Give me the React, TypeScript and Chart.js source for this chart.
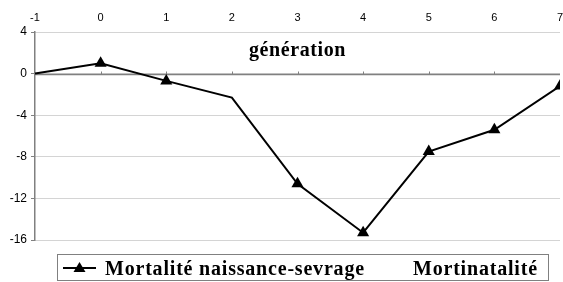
import React, { useEffect, useRef } from "react";
import { Chart, registerables } from "chart.js";

Chart.register(...registerables);

const generations = [-1, 0, 1, 2, 3, 4, 5, 6, 7];
const mortaliteNaissanceSevrage = [0, 1.0, -0.7, -2.3, -10.6, -15.3, -7.5, -5.4, -1.2];
const mortinatalite: (number | null)[] = [null, null, null, null, null, null, null, null, null];
const seriesLabels = ["Mortalité naissance-sevrage", "Mortinatalité"];
const axisTitle = "génération";
const yMin = -16;
const yMax = 4;
const yStep = 4;
const xMin = -1;
const xMax = 7;

const overlayPlugin = {
  id: "overlay",
  beforeDatasetsDraw(chart: any) {
    const { ctx, chartArea, scales } = chart;
    const y0 = Math.round(scales.y.getPixelForValue(0)) + 0.5;
    ctx.save();
    ctx.strokeStyle = "#808080";
    ctx.lineWidth = 1.5;
    ctx.beginPath();
    ctx.moveTo(chartArea.left, y0);
    ctx.lineTo(chartArea.right, y0);
    ctx.stroke();
    ctx.lineWidth = 1;
    for (let g = 0; g <= 6; g++) {
      const x = Math.round(scales.x.getPixelForValue(g)) + 0.5;
      ctx.beginPath();
      ctx.moveTo(x, y0);
      ctx.lineTo(x, y0 - 3);
      ctx.stroke();
    }
    // title inside plot
    ctx.fillStyle = "#000";
    ctx.font = "bold 20px 'Liberation Serif'";
    (ctx as any).letterSpacing = "0.6px";
    ctx.textAlign = "center";
    ctx.textBaseline = "alphabetic";
    ctx.fillText(axisTitle, scales.x.getPixelForValue(3), 56);
    ctx.restore();
  },
  afterDraw(chart: any) {
    const { ctx } = chart;
    ctx.save();
    // legend box
    ctx.strokeStyle = "#808080";
    ctx.lineWidth = 1;
    ctx.strokeRect(57.5, 254.5, 491, 26);
    // symbol series 1
    const ly = 268;
    ctx.strokeStyle = "#000";
    ctx.lineWidth = 2;
    ctx.beginPath();
    ctx.moveTo(63, ly);
    ctx.lineTo(96, ly);
    ctx.stroke();
    ctx.fillStyle = "#000";
    ctx.beginPath();
    ctx.moveTo(79.5, ly - 6);
    ctx.lineTo(85.5, ly + 4);
    ctx.lineTo(73.5, ly + 4);
    ctx.closePath();
    ctx.fill();
    ctx.font = "bold 20px 'Liberation Serif'";
    (ctx as any).letterSpacing = "0.8px";
    ctx.textAlign = "left";
    ctx.textBaseline = "alphabetic";
    ctx.fillText(chart.data.datasets[0].label, 105, 275);
    ctx.fillText(chart.data.datasets[1].label, 413, 275);
    ctx.restore();
  },
};

export default function App() {
  const ref = useRef<HTMLCanvasElement | null>(null);
  useEffect(() => {
    document.body.style.margin = "0";
    const canvas = ref.current;
    if (!canvas) return;
    const chart = new Chart(canvas, {
      type: "line",
      data: {
        datasets: [
          {
            label: seriesLabels[0],
            data: generations.map((g, i) => ({ x: g, y: mortaliteNaissanceSevrage[i] })),
            borderColor: "#000",
            backgroundColor: "#000",
            borderWidth: 2,
            pointStyle: "triangle",
            pointRadius: generations.map((g) => (g === -1 || g === 2 ? 0 : 7)),
            pointBackgroundColor: "#000",
            pointBorderColor: "#000",
            pointBorderWidth: 0,
            tension: 0,
            clip: { left: 8, top: 8, right: 0, bottom: 8 },
          },
          {
            label: seriesLabels[1],
            data: generations.map((g, i) => ({ x: g, y: mortinatalite[i] })),
            borderColor: "#fff",
            backgroundColor: "#fff",
            borderWidth: 2,
            pointRadius: 0,
          },
        ],
      },
      options: {
        responsive: false,
        animation: false,
        layout: { autoPadding: false, padding: { top: 0, bottom: 42, left: 0, right: 3 } },
        plugins: { legend: { display: false }, tooltip: { enabled: false } },
        scales: {
          x: {
            type: "linear",
            position: "top",
            min: xMin,
            max: xMax,
            ticks: {
              stepSize: 1,
              color: "#000",
              font: { family: "'Liberation Sans'", size: 11 },
              padding: 7,
            },
            grid: { display: false, drawTicks: false },
            border: { display: false },
            afterFit: (s: any) => {
              s.height = 32;
              s.paddingRight = 0;
              s.paddingLeft = 0;
            },
          },
          y: {
            min: yMin,
            max: yMax,
            ticks: {
              stepSize: yStep,
              color: "#000",
              font: { family: "'Liberation Sans'", size: 12 },
              padding: 4,
            },
            grid: {
              color: "#a8a8a8",
              lineWidth: 1,
              drawTicks: true,
              tickLength: 4,
              tickColor: "#808080",
            },
            border: { display: true, color: "#808080", width: 1.5, dash: [1, 1] },
            afterFit: (s: any) => {
              s.width = 35;
            },
          },
        },
      },
      plugins: [overlayPlugin],
    });
    return () => chart.destroy();
  }, []);
  return <canvas ref={ref} width={563} height={282} style={{ display: "block" }} />;
}
